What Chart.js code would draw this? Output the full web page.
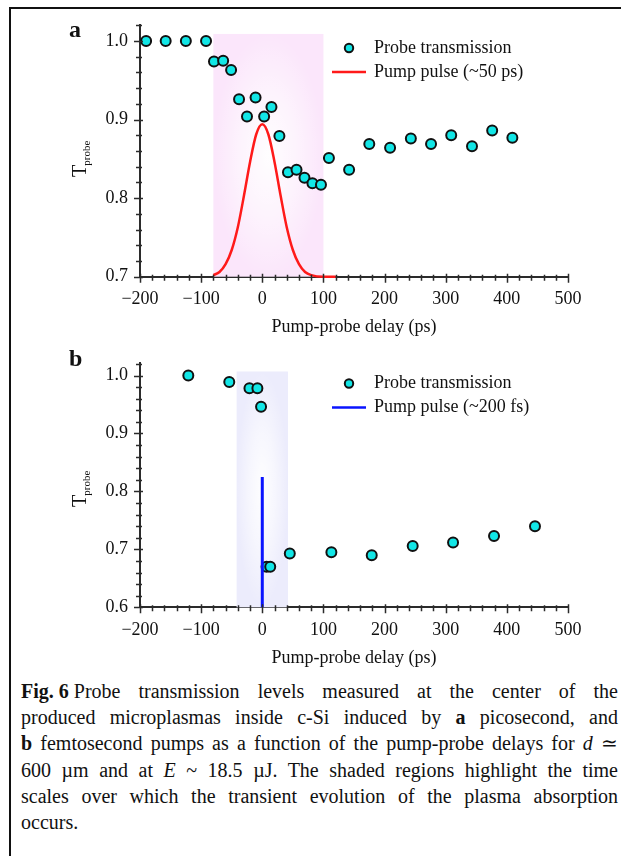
<!DOCTYPE html>
<html>
<head>
<meta charset="utf-8">
<script src="https://cdn.jsdelivr.net/npm/chart.js@4.4.0/dist/chart.umd.min.js"></script>
<style>
    body { margin: 0; background: #fff; width: 621px; height: 856px; overflow: hidden; position: relative;
           font-family: 'Liberation Serif', 'Times New Roman', serif; color: #111; }
    #frame { position: absolute; left: 9px; top: 7px; width: 640px; height: 900px;
             border-top: 2px solid #111; border-left: 2px solid #111; }
    canvas { position: absolute; left: 0; }
    #chartA { top: 0; }
    #chartB { top: 340px; }
    #caption { position: absolute; left: 21px; top: 678px; width: 597px; font-size: 20px; line-height: 26.2px; }
    #caption .ln { text-align: justify; text-align-last: justify; }
    #caption .last { text-align: left; }
    #caption .keep { display: inline-block; }
</style>
</head>
<body>
<div id="frame"></div>
<canvas id="chartA" width="621" height="340"></canvas>
<canvas id="chartB" width="621" height="330"></canvas>
<div id="caption">
    <div class="ln"><span class="keep"><b>Fig. 6</b> Probe</span> transmission levels measured at the center of the</div>
    <div class="ln">produced microplasmas inside c-Si induced by <b>a</b> picosecond, and</div>
    <div class="ln"><b>b</b> femtosecond pumps as a function of the pump-probe delays for <i>d</i> &#8771;</div>
    <div class="ln">600 &micro;m and at <i>E</i> ~ 18.5 &micro;J. The shaded regions highlight the time</div>
    <div class="ln">scales over which the transient evolution of the plasma absorption</div>
    <div class="last">occurs.</div>
</div>
<script>
// Panel a: picosecond pump
const probeDelayA = [-190, -158, -125, -92, -79, -64, -51, -38, -25, -11, 3, 15, 28, 42, 56, 69, 82, 96, 109, 142, 175, 209, 243, 276, 309, 343, 376, 409];
const probeTransA = [1.0, 1.0, 1.0, 1.0, 0.974, 0.975, 0.963, 0.926, 0.904, 0.928, 0.904, 0.916, 0.879, 0.833, 0.836, 0.826, 0.819, 0.817, 0.851, 0.836, 0.869, 0.864, 0.876, 0.869, 0.880, 0.866, 0.886, 0.877];
const pulseDelayA = [-80, -70, -60, -50, -40, -30, -20, -10, 0, 10, 20, 30, 40, 50, 60, 70, 80, 100, 120];
const pulseTransA = [0.702, 0.706, 0.716, 0.734, 0.763, 0.803, 0.846, 0.881, 0.894, 0.881, 0.846, 0.803, 0.763, 0.734, 0.716, 0.706, 0.702, 0.700, 0.700];
const shadeDelayA = [-80, 100];
const shadeTransA = [0.7, 1.009];

// Panel b: femtosecond pump
const probeDelayB = [-121, -54, -21, -8, -2, 7, 13, 45, 113, 179, 246, 312, 379, 446];
const probeTransB = [1.0, 0.989, 0.978, 0.978, 0.946, 0.670, 0.670, 0.693, 0.695, 0.690, 0.706, 0.712, 0.723, 0.740];
const pulseDelayB = [0, 0];
const pulseTransB = [0.6, 0.825];
const shadeDelayB = [-42, 42];
const shadeTransB = [0.6, 1.007];

// axis ticks
const xTicks = [-200, -100, 0, 100, 200, 300, 400, 500];
const yTicksA = [0.7, 0.8, 0.9, 1.0];
const yTicksB = [0.6, 0.7, 0.8, 0.9, 1.0];

const FONT = "'Liberation Serif', 'Times New Roman', serif";
const AXIS = '#2b2b2b';

function toPoints(xs, ys) {
    return xs.map((x, i) => ({ x: x, y: ys[i] }));
}

function fmtX(v) {
    return v < 0 ? '\u2212' + Math.abs(v) : String(v);
}

// shaded time window, whiter in the middle
function shadePlugin(xs, ys, edge) {
    return {
        id: 'shade',
        beforeDatasetsDraw(chart) {
            const { ctx, scales: { x, y } } = chart;
            const l = x.getPixelForValue(xs[0]), r = x.getPixelForValue(xs[1]);
            const t = y.getPixelForValue(ys[1]), b = y.getPixelForValue(ys[0]);
            ctx.save();
            ctx.fillStyle = edge;
            ctx.fillRect(l, t, r - l, b - t);
            ctx.translate((l + r) / 2, (t + b) / 2);
            ctx.scale((r - l) / 2, (b - t) / 2);
            const g = ctx.createRadialGradient(0, 0, 0, 0, 0, 1);
            g.addColorStop(0, 'rgba(255,255,255,0.95)');
            g.addColorStop(0.5, 'rgba(255,255,255,0.55)');
            g.addColorStop(1, 'rgba(255,255,255,0)');
            ctx.fillStyle = g;
            ctx.fillRect(-1, -1, 2, 2);
            ctx.restore();
        }
    };
}

// tick marks, labels, legend
function decoPlugin(o) {
    return {
        id: 'deco',
        afterDraw(chart) {
            const { ctx, chartArea, scales: { x, y } } = chart;
            ctx.save();
            ctx.strokeStyle = AXIS;
            ctx.lineWidth = 1.5;
            ctx.beginPath();
            for (let v = -200; v <= 500; v += 20) {
                const px = Math.round(x.getPixelForValue(v)) + 0.5;
                const major = v % 100 === 0;
                ctx.moveTo(px, chartArea.bottom - (major ? 3 : 2));
                ctx.lineTo(px, chartArea.bottom + (major ? 6 : 4));
            }
            for (let k = Math.round(o.yMin * 50); k <= Math.round(o.yMax * 50); k++) {
                const py = Math.round(y.getPixelForValue(k / 50)) + 0.5;
                const major = k % 5 === 0;
                ctx.moveTo(chartArea.left + (major ? 3 : 2), py);
                ctx.lineTo(chartArea.left - (major ? 6 : 4), py);
            }
            ctx.stroke();

            ctx.fillStyle = '#111';
            // panel letter
            ctx.font = 'bold 24px ' + FONT;
            ctx.textBaseline = 'alphabetic';
            ctx.textAlign = 'left';
            ctx.fillText(o.letter, 69, o.letterY);

            // x title
            ctx.font = '18px ' + FONT;
            ctx.textAlign = 'center';
            ctx.fillText('Pump-probe delay (ps)', (chartArea.left + chartArea.right) / 2, o.xTitleY);

            // y title T_probe
            ctx.save();
            ctx.translate(86, o.yTitleBottom);
            ctx.rotate(-Math.PI / 2);
            ctx.textAlign = 'left';
            ctx.font = '20px ' + FONT;
            ctx.fillText('T', 0, 0);
            const tw = ctx.measureText('T').width;
            ctx.font = '11px ' + FONT;
            ctx.fillText('probe', tw - 1, 4);
            ctx.restore();

            // legend
            const lx = 349, tx = 374;
            ctx.beginPath();
            ctx.arc(lx, o.legY, 4.2, 0, Math.PI * 2);
            ctx.fillStyle = '#12e6e6';
            ctx.fill();
            ctx.lineWidth = 2;
            ctx.strokeStyle = '#111';
            ctx.stroke();
            ctx.beginPath();
            ctx.moveTo(332, o.legY + 24);
            ctx.lineTo(366, o.legY + 24);
            ctx.strokeStyle = o.pulseColor;
            ctx.lineWidth = 2.5;
            ctx.stroke();
            ctx.fillStyle = '#111';
            ctx.font = '18px ' + FONT;
            ctx.textAlign = 'left';
            ctx.textBaseline = 'middle';
            ctx.fillText('Probe transmission', tx, o.legY);
            ctx.fillText(o.pulseLabel, tx, o.legY + 24);
            ctx.restore();
        }
    };
}

function buildChart(id, p) {
    return new Chart(document.getElementById(id), {
        type: 'scatter',
        data: {
            datasets: [
                {
                    label: p.pulseLabel,
                    data: toPoints(p.pulseX, p.pulseY),
                    showLine: true,
                    borderColor: p.pulseColor,
                    borderWidth: p.pulseWidth,
                    pointRadius: 0,
                    cubicInterpolationMode: 'monotone',
                    clip: 4
                },
                {
                    label: 'Probe transmission',
                    data: toPoints(p.probeX, p.probeY),
                    backgroundColor: '#12e6e6',
                    borderColor: '#111',
                    borderWidth: 2,
                    pointRadius: 5,
                    clip: 8
                }
            ]
        },
        options: {
            responsive: false,
            animation: false,
            layout: { padding: { left: 0, right: 53, top: p.top, bottom: 0 } },
            plugins: { legend: { display: false }, tooltip: { enabled: false } },
            scales: {
                x: {
                    type: 'linear',
                    min: -200, max: 500,
                    afterBuildTicks: s => { s.ticks = xTicks.map(v => ({ value: v })); },
                    afterFit: s => { s.height = p.xHeight; },
                    grid: { display: false, drawTicks: false, tickLength: 0 },
                    border: { display: true, color: AXIS, width: 2 },
                    ticks: { color: '#111', font: { family: FONT, size: 18 }, padding: 12,
                             autoSkip: false, maxRotation: 0, callback: v => fmtX(v) }
                },
                y: {
                    type: 'linear',
                    min: p.yMin, max: p.yMax,
                    afterBuildTicks: s => { s.ticks = p.yTicks.map(v => ({ value: v })); },
                    afterFit: s => { s.width = 140; },
                    grid: { display: false, drawTicks: false, tickLength: 0 },
                    border: { display: true, color: AXIS, width: 2 },
                    ticks: { color: '#111', font: { family: FONT, size: 18 }, padding: 12,
                             autoSkip: false, callback: v => v.toFixed(1) }
                }
            }
        },
        plugins: [shadePlugin(p.shadeX, p.shadeY, p.shadeColor), decoPlugin(p)]
    });
}

buildChart('chartA', {
    probeX: probeDelayA, probeY: probeTransA,
    pulseX: pulseDelayA, pulseY: pulseTransA,
    shadeX: shadeDelayA, shadeY: shadeTransA, shadeColor: '#fbe6fb',
    pulseColor: '#ff1a1a', pulseWidth: 2.5, pulseLabel: 'Pump pulse (~50 ps)',
    yMin: 0.7, yMax: 1.02, yTicks: yTicksA,
    top: 25.3, xHeight: 63.3,
    letter: 'a', letterY: 37, xTitleY: 332, yTitleBottom: 177, legY: 48
});

buildChart('chartB', {
    probeX: probeDelayB, probeY: probeTransB,
    pulseX: pulseDelayB, pulseY: pulseTransB,
    shadeX: shadeDelayB, shadeY: shadeTransB, shadeColor: '#ececfc',
    pulseColor: '#0a14ff', pulseWidth: 3, pulseLabel: 'Pump pulse (~200 fs)',
    yMin: 0.6, yMax: 1.022, yTicks: yTicksB,
    top: 15, xHeight: 62.7,
    letter: 'b', letterY: 26, xTitleY: 323, yTitleBottom: 167, legY: 43.5
});
</script>
</body>
</html>
